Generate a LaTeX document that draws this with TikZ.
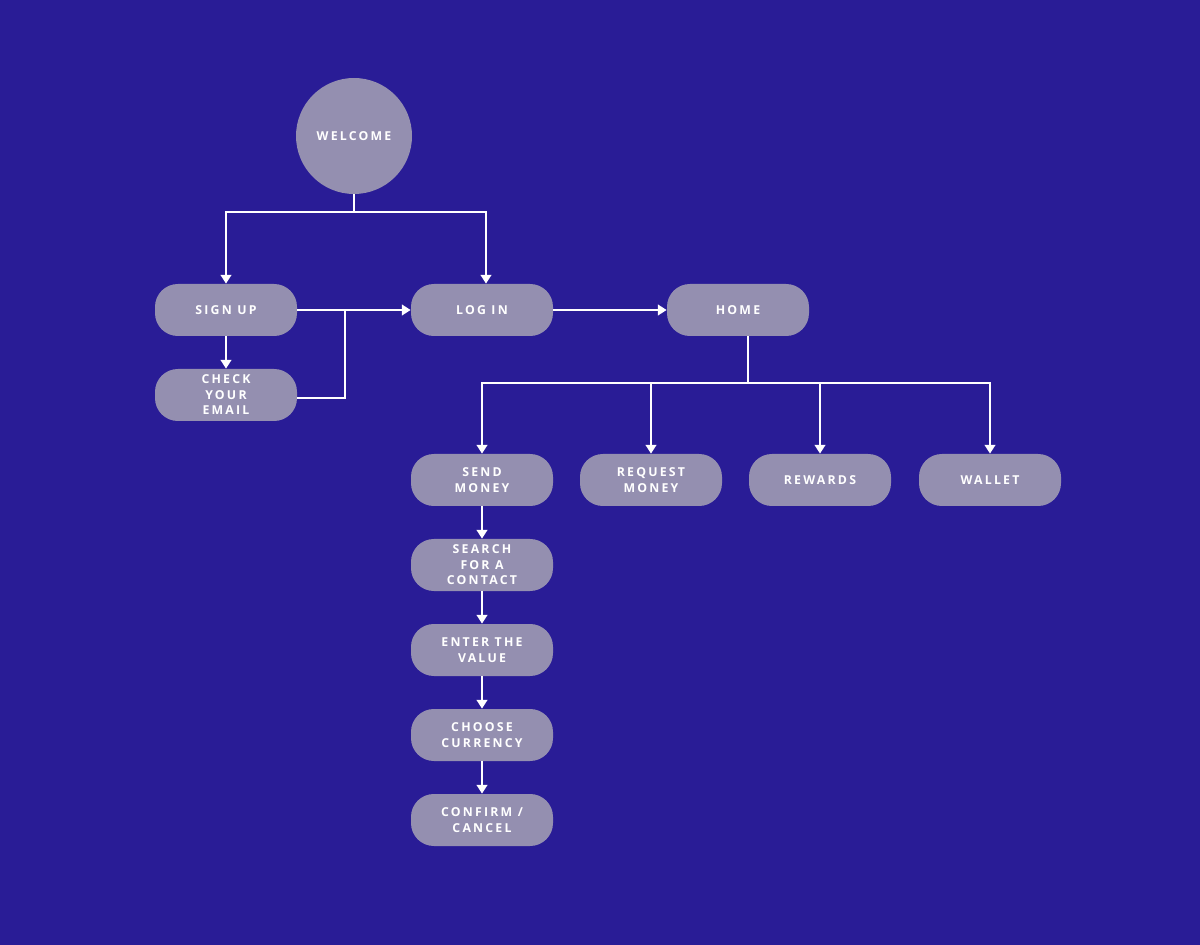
\documentclass[tikz,border=0pt]{standalone}
\usepackage{fontspec}
\setmainfont[LetterSpace=18]{Open Sans}
\usetikzlibrary{arrows.meta}
\definecolor{bg}{HTML}{291C96}
\definecolor{nd}{HTML}{948FB0}
\tikzset{
 pill/.style={fill=nd,rounded corners=13pt,minimum width=142*0.02cm,minimum height=52*0.02cm,text=white,font=\fontsize{7}{8.8}\selectfont\bfseries,align=center,inner sep=0pt},
 ln/.style={draw=white,line width=1.3pt},
 ar/.style={ln,-{Triangle[length=5pt,width=6pt]}}
}
\begin{document}
\begin{tikzpicture}[x=0.02cm,y=-0.02cm]
\fill[bg] (0,0) rectangle (1200,945);
\node[circle,fill=nd,minimum size=116*0.02cm,text=white,font=\fontsize{7}{8.8}\selectfont\bfseries] (wel) at (354,136) {WELCOME};
\node[pill] (su) at (226,310) {SIGN UP};
\node[pill] (li) at (482,310) {LOG IN};
\node[pill] (ho) at (738,310) {HOME};
\node[pill] (ce) at (226,395) {CHECK\\YOUR\\EMAIL};
\node[pill] (sm) at (482,480) {SEND\\MONEY};
\node[pill] (rm) at (651,480) {REQUEST\\MONEY};
\node[pill] (rw) at (820,480) {REWARDS};
\node[pill] (wa) at (990,480) {WALLET};
\node[pill] (sc) at (482,565) {SEARCH\\FOR A\\CONTACT};
\node[pill] (ev) at (482,650) {ENTER THE\\VALUE};
\node[pill] (cc) at (482,735) {CHOOSE\\CURRENCY};
\node[pill] (cf) at (482,820) {CONFIRM /\\CANCEL};
\coordinate (j1) at (354,212);
\coordinate (j2) at (748,383);
\draw[ln] (wel.south) -- (j1);
\draw[ar] (j1) -| (su.north);
\draw[ar] (j1) -| ([xshift=4*0.02cm]li.north);
\draw[ar] (su.east) -- (li.west);
\draw[ar] (su.south) -- (ce.north);
\draw[ln] ([yshift=-3*0.02cm]ce.east) -| (345,310);
\draw[ar] (li.east) -- (ho.west);
\draw[ln] ([xshift=10*0.02cm]ho.south) -- (j2);
\draw[ar] (j2) -| (sm.north);
\draw[ar] (j2) -| (rm.north);
\draw[ar] (j2) -| (rw.north);
\draw[ar] (j2) -| (wa.north);
\draw[ar] (sm) -- (sc);
\draw[ar] (sc) -- (ev);
\draw[ar] (ev) -- (cc);
\draw[ar] (cc) -- (cf);
\end{tikzpicture}
\end{document}
